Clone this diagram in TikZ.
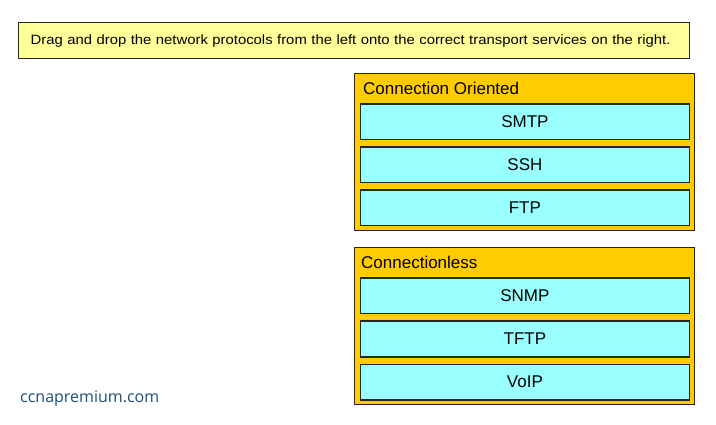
\documentclass[tikz,border=0pt]{standalone}
\usepackage{fontspec}
\setmainfont{Liberation Sans}
\newfontfamily\sitefont{Open Sans}
\newfontfamily\taskfont[FakeStretch=1.1]{Liberation Sans}
\usetikzlibrary{positioning}

\definecolor{bannerfill}{RGB}{255,255,153}
\definecolor{groupfill}{RGB}{255,204,0}
\definecolor{slotfill}{RGB}{153,255,255}
\definecolor{sitecolor}{RGB}{28,79,122}

\begin{document}
\begin{tikzpicture}[x=1pt,y=-1pt]
    \tikzstyle{banner} = [rectangle, draw=black!85, line width=1.3pt, fill=bannerfill, anchor=north west, minimum width=671pt, minimum height=36pt, text width=647pt, inner xsep=12pt, align=left, font=\taskfont\fontsize{13.5}{15}\selectfont]
    \tikzstyle{group} = [rectangle, draw=black!85, line width=1.3pt, fill=groupfill, anchor=north west, minimum width=340pt, minimum height=157pt, inner sep=0pt]
    \tikzstyle{grouptitle} = [anchor=west, inner sep=0pt, font=\fontsize{17}{19}\selectfont]
    \tikzstyle{slot} = [rectangle, draw=black!85, line width=1.8pt, fill=slotfill, minimum width=329pt, minimum height=35.2pt, inner sep=0pt, font=\fontsize{17}{19}\selectfont]
    \useasboundingbox (0,0) rectangle (716,425);
    \node (task) [banner] at (18,22) {Drag and drop the network protocols from the left onto the correct transport services on the right.};
    % connection oriented
    \node (co) [group] at (354,73) {};
    \node (cotitle) [grouptitle] at (363,88) {Connection Oriented};
    \node (smtp) [slot, anchor=north west] at (359.5,103.5) {SMTP};
    \node (ssh) [slot, below=6pt of smtp] {SSH};
    \node (ftp) [slot, below=6pt of ssh] {FTP};
    % connectionless
    \node (cl) [group] at (354,247) {};
    \node (cltitle) [grouptitle] at (361,262) {Connectionless};
    \node (snmp) [slot, anchor=north west] at (359.5,277.5) {SNMP};
    \node (tftp) [slot, below=6pt of snmp] {TFTP};
    \node (voip) [slot, below=6pt of tftp] {VoIP};
    \node (site) [anchor=west, inner sep=0pt, text=sitecolor, font=\sitefont\fontsize{16}{18}\selectfont] at (20,399) {ccnapremium.com};
\end{tikzpicture}
\end{document}
